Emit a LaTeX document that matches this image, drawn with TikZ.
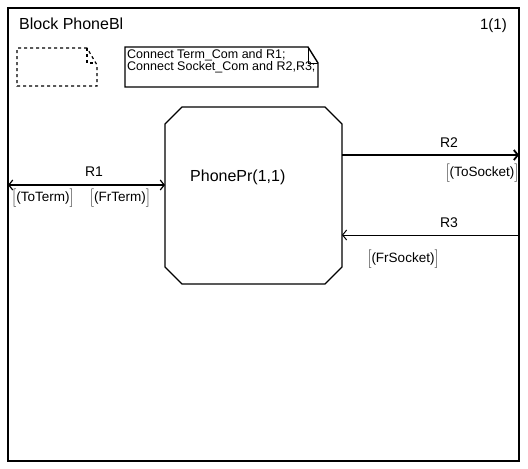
\documentclass[tikz,border=0pt]{standalone}
\usepackage{fontspec}
\setmainfont{Liberation Sans}
\usetikzlibrary{arrows.meta}

\newcommand{\siglist}[1]{$\left[\rule[-6pt]{0pt}{18pt}\mbox{#1}\right]$}

\begin{document}
\begin{tikzpicture}[x=1pt,y=-1pt,
    >={Straight Barb[length=4pt,width=10pt]},
    chan/.style={line width=1.2pt},
    sig/.style={font=\fontsize{13.5}{15}\selectfont, inner sep=0pt},
    lbl/.style={font=\fontsize{14}{16}\selectfont, inner sep=0pt}]
  \useasboundingbox (0,0) rectangle (528,469);

  % block frame
  \draw[line width=1.8pt] (8,8) rectangle (519,461);
  \node[anchor=base west, inner sep=0pt, font=\fontsize{16}{19}\selectfont] (title) at (19,29) {Block PhoneBl};
  \node[anchor=base east, inner sep=0pt, font=\fontsize{15}{18}\selectfont] (page) at (507,29) {1(1)};

  % empty dashed note
  \draw[dashed, line width=1.2pt] (87,48) -- (17,48) -- (17,86) -- (97,86) -- (97,65) -- cycle;
  \draw[dashed, line width=1.2pt] (87,48) -- (87,63) -- (95,63);

  % text note
  \draw[line width=1.4pt] (308,47) -- (125,47) -- (125,87) -- (318,87) -- (318,63) -- cycle;
  \draw[line width=1pt] (308,47) -- (308,63) -- (318,63);
  \node[anchor=north west, align=left, inner sep=0pt, font=\fontsize{12.5}{10.5}\selectfont] (conn) at (127,49)
    {Connect Term\_Com and R1;\\Connect Socket\_Com and R2,R3;};

  % process
  \node[minimum width=177pt, minimum height=177pt, inner sep=0pt, outer sep=0pt] (phonepr) at (253.5,195.5) {};
  \draw[line width=1.3pt]
    ([xshift=17pt]phonepr.north west) -- ([xshift=-17pt]phonepr.north east)
    -- ([yshift=-17pt]phonepr.north east) -- ([yshift=17pt]phonepr.south east)
    -- ([xshift=-17pt]phonepr.south east) -- ([xshift=17pt]phonepr.south west)
    -- ([yshift=17pt]phonepr.south west) -- ([yshift=-17pt]phonepr.north west) -- cycle;
  \node[anchor=west, inner sep=0pt, font=\fontsize{16}{19}\selectfont] (phoneprlbl) at (190,177) {PhonePr(1,1)};

  % channels
  \coordinate (envR1) at (8,185);
  \coordinate (envR2) at (519,155);
  \coordinate (envR3) at (519,235);
  \draw[chan, <->] (envR1) -- (envR1 -| phonepr.west);
  \draw[line width=1.8pt, ->] (envR2 -| phonepr.east) -- (envR2);
  \draw[line width=1pt, ->] (envR3) -- (envR3 -| phonepr.east);

  \node[lbl] (r1) at (94,172) {R1};
  \node[lbl] (r2) at (449,143) {R2};
  \node[lbl] (r3) at (449,223) {R3};

  \node[sig] (toterm) at (43,198) {\siglist{(ToTerm)}};
  \node[sig] (frterm) at (120,198) {\siglist{(FrTerm)}};
  \node[sig] (tosocket) at (482,173) {\siglist{(ToSocket)}};
  \node[sig] (frsocket) at (403,259) {\siglist{(FrSocket)}};
\end{tikzpicture}
\end{document}
